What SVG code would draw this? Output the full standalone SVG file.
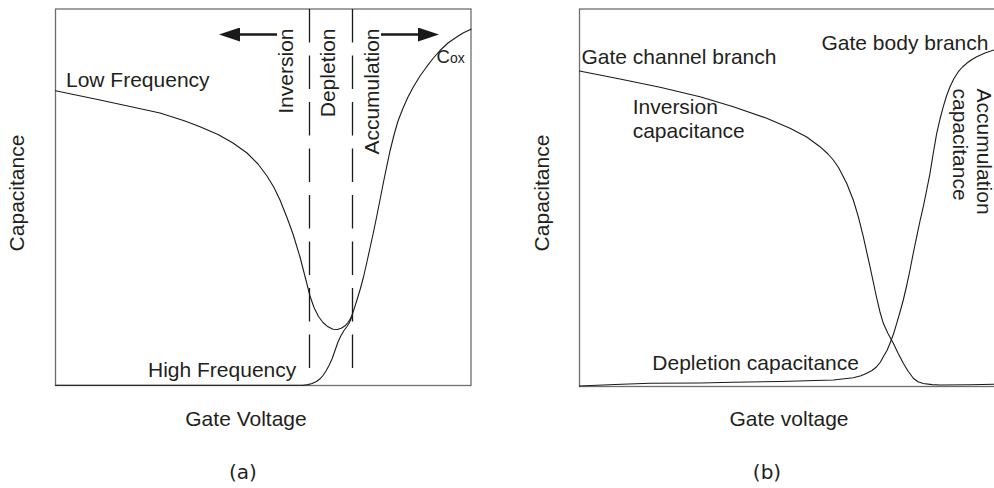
<svg xmlns="http://www.w3.org/2000/svg" width="994" height="488" viewBox="0 0 994 488">
  <style>
    .frame { fill: none; stroke: #6e6e6e; stroke-width: 1.3; }
    .curve { fill: none; stroke: #1a1a1a; stroke-width: 1.1; stroke-linejoin: round; stroke-linecap: round; }
    .divider { fill: none; stroke: #1a1a1a; stroke-width: 1.3; stroke-dasharray: 33.5 13; }
    .shaft { fill: none; stroke: #1a1a1a; stroke-width: 2.6; }
    .lbl { font-family: "Liberation Sans", Arial, sans-serif; font-size: 21px; fill: #231f20; }
    .cap { font-family: "DejaVu Sans", sans-serif; font-size: 20px; fill: #231f20; text-anchor: middle; }
  </style>
  <defs>
    <marker id="head" viewBox="0 0 21 14" refX="0" refY="7" markerWidth="21" markerHeight="14" markerUnits="userSpaceOnUse" orient="auto">
      <path d="M0,0 L21,7 L0,14 Z" fill="#1a1a1a"/>
    </marker>
  </defs>

  <rect width="994" height="488" fill="#ffffff"/>

  <!-- Panel (a): MOS capacitor C-V, low vs high frequency -->
  <g id="panel-a">
    <rect class="frame" x="55.5" y="9" width="415.5" height="376.5"/>
    <text class="lbl" transform="translate(24,193) rotate(-90)" text-anchor="middle">Capacitance</text>
    <text class="lbl" x="246" y="426" text-anchor="middle">Gate Voltage</text>
    <text class="cap" x="243" y="479">(a)</text>
  </g>

  <g id="region-dividers">
    <line class="divider" x1="309.5" y1="9" x2="309.5" y2="375"/>
    <line class="divider" x1="352.5" y1="9" x2="352.5" y2="375"/>
  </g>

  <g id="region-labels">
    <text class="lbl" transform="translate(293,28.5) rotate(-90)" text-anchor="end">Inversion</text>
    <text class="lbl" transform="translate(335,28.5) rotate(-90)" text-anchor="end">Depletion</text>
    <text class="lbl" transform="translate(378.5,28.5) rotate(-90)" text-anchor="end">Accumulation</text>
  </g>

  <g id="direction-arrows">
    <line class="shaft" x1="277" y1="34.5" x2="240" y2="34.5" marker-end="url(#head)"/>
    <line class="shaft" x1="381" y1="34.5" x2="418" y2="34.5" marker-end="url(#head)"/>
  </g>

  <g id="curves-a">
    <!-- low frequency branch, merging into the accumulation rise -->
    <path class="curve" d="M55.5,90.7 L100,100 L130,106.5 L160,113 L185,121 L200,126.7 L218,134.5 L233,143 L247,153 L258,164 L267,176 L274,187.5 L280,200 L286.7,216.7 L293,234 L300,257 L306.7,283 L310,296 L314,307.5 L318.5,316.5 L323,322.5 L328,326.8 L333,329.2 L337.5,329.5 L341.7,328 L345,325.8 L348,322.5 L350.5,318.5 L352.7,313.3 L356,303 L360,290 L363.5,277 L366.7,263 L370,248 L373.3,233 L376.7,216.5 L380,200 L383.3,183 L386.7,166.7 L390,151 L394,135 L398,121 L403.3,107.5 L408,97 L413.3,87 L420,76 L426.7,66.7 L433,58.5 L440,50.5 L448,43 L456.7,37 L463,33 L471,29.3"/>
    <!-- high frequency branch -->
    <path class="curve" d="M55.5,385.3 L303,385.3 L308,384.6 L312,383.5 L316.5,381.5 L320,378.8 L323,375.5 L326,371 L329,365.5 L332,359 L335,350.5 L338,342 L341,335.5 L344,330.5 L347,326.5 L349.5,322.5 L351.5,317.5"/>
    <text class="lbl" x="66" y="87.3">Low Frequency</text>
    <text class="lbl" x="148" y="376.7">High Frequency</text>
    <text x="436.5" y="62.8" font-family="Liberation Sans, Arial, sans-serif" fill="#231f20"><tspan font-size="18.5">C</tspan><tspan font-size="14">ox</tspan></text>
  </g>

  <!-- Panel (b): gate channel and gate body branches -->
  <g id="panel-b">
    <rect class="frame" x="579.5" y="9" width="430" height="377.5"/>
    <text class="lbl" transform="translate(549,193) rotate(-90)" text-anchor="middle">Capacitance</text>
    <text class="lbl" x="789" y="426" text-anchor="middle">Gate voltage</text>
    <text class="cap" x="767" y="479">(b)</text>
  </g>

  <g id="curves-b">
    <!-- gate channel branch: inversion capacitance falling to zero -->
    <path class="curve" d="M579.5,71 L620,79 L660,87.3 L700,96.7 L733.3,106.7 L766.7,118.3 L790,128.3 L806.7,137 L820,146.7 L828,154 L833.3,160 L838.5,167.5 L843.3,176.7 L847,184 L850,191.7 L853.3,200 L858.3,216.7 L863.3,236.7 L870,266.7 L876.7,298 L880,312 L883.3,323.3 L888,333.5 L893.3,343.3 L898,353 L903.3,363.3 L908,371 L913.3,378.3 L918,381.8 L923.3,383.5 L932,384.6 L940,385 L970,384.7 L994,384.3"/>
    <!-- gate body branch: depletion then accumulation capacitance -->
    <path class="curve" d="M579.5,386 L615,384.5 L650,383.3 L700,383 L733.3,382.3 L780,381.5 L833.3,380 L853.3,377.7 L861,375.8 L866.7,373.3 L872,370.5 L876.7,366.7 L880.5,362 L883.3,356.7 L887,350.5 L890,343.3 L893.5,334 L896.7,323.3 L900,312 L903.3,300 L906.7,285.5 L910,270 L913.3,253 L916.7,236.7 L920,221 L923.3,206.7 L926.5,191 L930,173.3 L933.3,153 L936.7,133.3 L940,119 L943.3,106.7 L946.5,96 L950,86.7 L954,78.5 L958.3,71.7 L962.5,67 L966.7,63.3 L971.5,59.8 L976.7,56.7 L985,53 L994,50"/>
    <text class="lbl" x="581.5" y="63.5">Gate channel branch</text>
    <text class="lbl" x="821.5" y="50">Gate body branch</text>
    <text class="lbl" x="632.7" y="114">Inversion</text>
    <text class="lbl" x="632.7" y="138">capacitance</text>
    <text class="lbl" x="652.3" y="370">Depletion capacitance</text>
    <text class="lbl" transform="translate(976.5,88.5) rotate(90)">Accumulation</text>
    <text class="lbl" transform="translate(953,88.5) rotate(90)">capacitance</text>
  </g>
</svg>
